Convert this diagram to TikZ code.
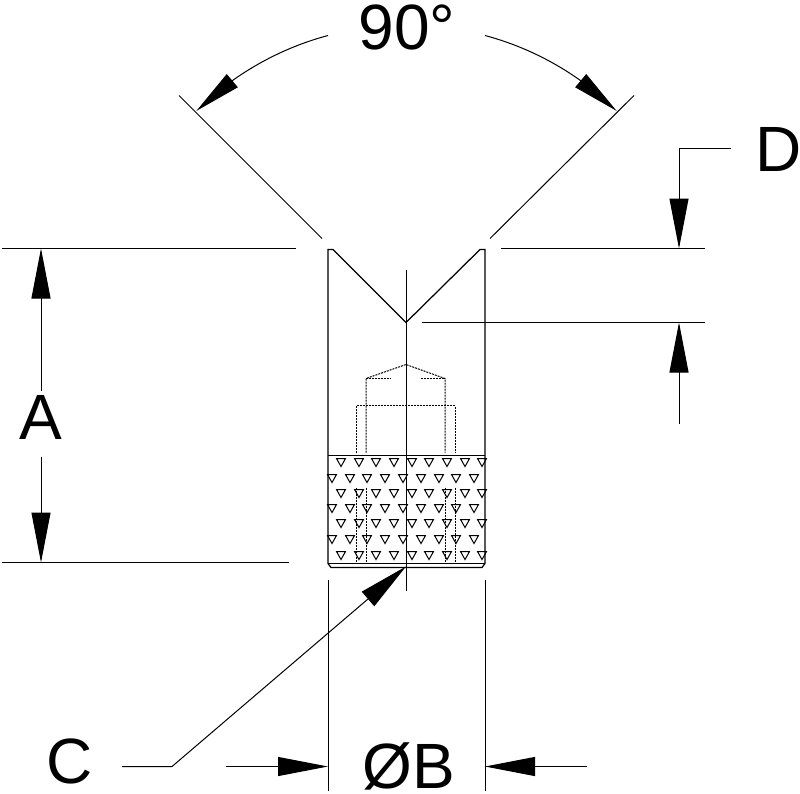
\documentclass[tikz,border=0pt]{standalone}
\usepackage{fontspec}
\setmainfont{Liberation Sans}
\usetikzlibrary{arrows.meta,bending}
\tikzset{
  dim/.style={draw=black,line width=1pt,line cap=butt,line join=miter},
  tip/.style={-{Triangle[length=50pt,width=19pt]}},
  arctip/.style={-{Triangle[length=47pt,width=17pt]}},
  outline/.style={draw=black,line width=1.25pt,line join=miter},
  hidden/.style={draw=black,line width=1pt,dash pattern=on 2pt off 1pt},
  label/.style={font=\fontsize{64}{64}\selectfont,inner sep=0pt,text=black},
  knurl/.style={draw=black,line width=1pt,fill=white},
}
\newcommand{\knurlmark}[2]{\draw[knurl] (#1-4.5,#2-4) -- (#1+4.5,#2-4) -- (#1,#2+4) -- cycle;}
\begin{document}
\begin{tikzpicture}[x=1pt,y=-1pt]
\useasboundingbox (0,0) rectangle (800,793);
\begin{scope}[yshift=-0.5pt]
\coordinate (apex) at (406,322);
% knurl marks
\foreach \yy in {462,493,523,555}{\foreach \xx in {341,359,376,394,412,429,447,465,482}{\knurlmark{\xx}{\yy}}}
\foreach \yy in {478,508,539}{\foreach \xx in {332,350,367,385,403,421,439,456,474}{\knurlmark{\xx}{\yy}}}
% body
\draw[outline] (333,249) -- (328,249) -- (328,563) -- (331,567) -- (482,567) -- (485,563) -- (485,249) -- (480,249) -- (apex) -- cycle;
\draw[outline,line width=1pt] (328,563) -- (485,563);
\draw[outline] (328,455) -- (485,455);
\draw[dim] (406,269) -- (406,590);
% hidden lines
\draw[hidden] (366,452) -- (366,378) -- (406,364) -- (445,378) -- (445,452);
\draw[hidden] (366,378) -- (391,378) (421,378) -- (445,378);
\draw[hidden] (356,452) -- (356,405) -- (455,405) -- (455,452);
\foreach \xx in {356,366,445,455}{\draw[hidden] (\xx,487) -- (\xx,563);}
% angle dimension
\draw[dim] (179,95) -- (322,238);
\draw[dim] (634,95) -- (490,238);
\draw[dim,arctip] (328,35) arc[start angle=-105,end angle=-134.6,radius=297];
\draw[dim,arctip] (485,35) arc[start angle=-75,end angle=-45.4,radius=297];
% extension lines
\draw[dim] (2,248) -- (296,248);
\draw[dim] (501,248) -- (705,248);
\draw[dim] (2,562) -- (289,562);
\draw[dim] (422,322) -- (705,322);
\draw[dim] (328,579) -- (328,790);
\draw[dim] (485,579) -- (485,790);
% labels
\node[label] (ang) at (407,27) {90°};
\node[label] (A) at (41,417) {A};
\node[label] (D) at (779,149) {D};
\node[label] (C) at (70,761) {C};
\node[label] (B) at (409,766) {ØB};
% dimension arrows
\draw[dim,tip] (41,390) -- (41,248);
\draw[dim,tip] (41,456) -- (41,562);
\draw[dim,tip] (731,148) -- (679,148) -- (679,248);
\draw[dim,tip] (679,423) -- (679,322);
\draw[dim,tip] (122,766) -- (172,766) -- (406,566);
\draw[dim,tip] (226,766) -- (328,766);
\draw[dim,tip] (587,766) -- (485,766);
\end{scope}
\end{tikzpicture}
\end{document}
